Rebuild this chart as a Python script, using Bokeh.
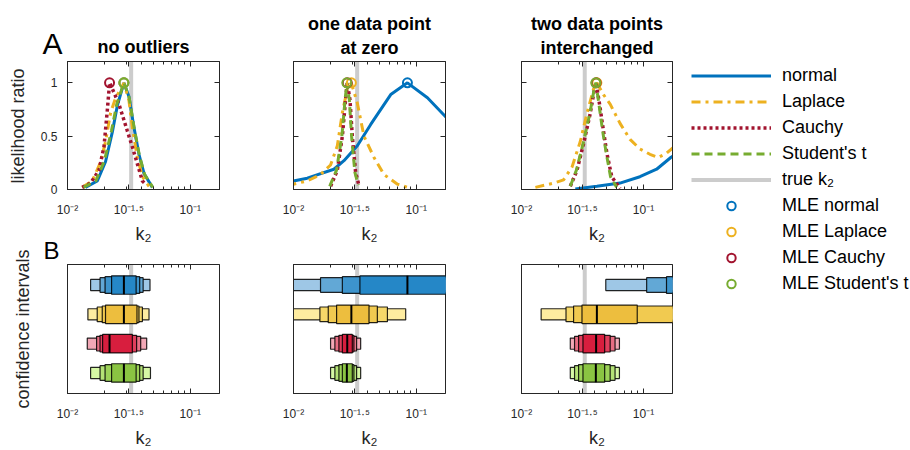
import math
from bokeh.plotting import figure
from bokeh.layouts import row, column
from bokeh.models import (FixedTicker, LogAxis, LinearAxis, Title, Label, Legend,
                          LegendItem, Range1d, Span, ColumnDataSource)
from bokeh.embed import file_html
from bokeh.resources import INLINE

FONT = "Liberation Sans"
INK = "#262626"

# ---------------- data ----------------
x_tick_values = [0.01, 10 ** -1.5, 0.1]
x_tick_labels = ["10⁻²", "10⁻¹·⁵", "10⁻¹"]
x_minor_values = [0.02, 0.03, 0.04, 0.05, 0.06, 0.07, 0.08, 0.09]
y_tick_values = [0, 0.5, 1]
y_tick_labels = ["0", "0.5", "1"]
k_limits = (0.01, 0.173)
lr_limits = (0, 1.2)
true_k2 = 0.033

dist_names = ["normal", "Laplace", "Cauchy", "Student's t"]

# panel 1: no outliers (likelihood ratio curves)
k_a1_normal = [0.0140, 0.0175, 0.0204, 0.0232, 0.0255, 0.0288, 0.0317, 0.0348, 0.0382, 0.0420, 0.0491]
lr_a1_normal = [0.02, 0.08, 0.26, 0.54, 0.79, 1.0, 0.87, 0.58, 0.33, 0.15, 0.02]
k_a1_laplace = [0.01318, 0.01592, 0.01862, 0.02042, 0.02244, 0.02466, 0.02710, 0.02884, 0.03170, 0.03373, 0.03707, 0.04074, 0.04613]
lr_a1_laplace = [0.02, 0.08, 0.26, 0.45, 0.72, 0.86, 0.94, 1.0, 0.83, 0.58, 0.30, 0.12, 0.03]
k_a1_cauchy = [0.01318, 0.01542, 0.01803, 0.01982, 0.02109, 0.02203, 0.02388, 0.02624, 0.02884, 0.03069, 0.03373, 0.03707, 0.04074, 0.04335]
lr_a1_cauchy = [0.02, 0.06, 0.18, 0.40, 0.74, 1.0, 0.91, 0.80, 0.65, 0.55, 0.40, 0.24, 0.08, 0.05]
k_a1_student = [0.0135, 0.0170, 0.0200, 0.0228, 0.0252, 0.0288, 0.0318, 0.0350, 0.0385, 0.0425, 0.0495]
lr_a1_student = [0.02, 0.08, 0.27, 0.55, 0.80, 1.0, 0.86, 0.57, 0.32, 0.14, 0.02]
mle_a1 = [0.0288, 0.0288, 0.0220, 0.0288]

# panel 2: one data point at zero
k_a2_normal = [0.00891, 0.0100, 0.01294, 0.02133, 0.02576, 0.03311, 0.04256, 0.06194, 0.08472, 0.1233, 0.1742, 0.1995]
lr_a2_normal = [0.07, 0.08, 0.106, 0.19, 0.27, 0.41, 0.61, 0.89, 1.0, 0.86, 0.68, 0.62]
k_a2_laplace = [0.00891, 0.0100, 0.01294, 0.01660, 0.02004, 0.02275, 0.02500, 0.02742, 0.02958, 0.03311, 0.03750, 0.04529, 0.05458, 0.07031, 0.08472]
lr_a2_laplace = [0.04, 0.05, 0.08, 0.14, 0.23, 0.41, 0.72, 0.94, 1.0, 0.81, 0.50, 0.30, 0.14, 0.05, 0.02]
k_a2_cauchy = [0.02004, 0.02275, 0.02500, 0.02655, 0.02742, 0.02884, 0.03013, 0.03206, 0.03412]
lr_a2_cauchy = [0.03, 0.18, 0.50, 0.84, 1.0, 0.84, 0.50, 0.16, 0.04]
k_a2_student = [0.01972, 0.02239, 0.02477, 0.02630, 0.02723, 0.02851, 0.02972, 0.03162, 0.03373]
lr_a2_student = [0.03, 0.18, 0.50, 0.84, 1.0, 0.84, 0.50, 0.16, 0.04]
mle_a2 = [0.0847, 0.0296, 0.0274, 0.0272]

# panel 3: two data points interchanged
k_a3_normal = [0.02761, 0.04150, 0.06427, 0.09354, 0.1282, 0.1675, 0.1995]
lr_a3_normal = [0.005, 0.03, 0.06, 0.12, 0.19, 0.30, 0.36]
k_a3_laplace = [0.01300, 0.01837, 0.02213, 0.02594, 0.03034, 0.03436, 0.03890, 0.04150, 0.04699, 0.05333, 0.06427, 0.07762, 0.09354, 0.1130, 0.1321, 0.1545, 0.1778]
lr_a3_laplace = [0.02, 0.06, 0.09, 0.21, 0.45, 0.71, 0.94, 1.0, 0.89, 0.80, 0.62, 0.47, 0.38, 0.33, 0.30, 0.34, 0.40]
k_a3_cauchy = [0.02512, 0.02851, 0.03228, 0.03656, 0.04018, 0.04093, 0.04365, 0.04699, 0.05012, 0.05495, 0.06427]
lr_a3_cauchy = [0.03, 0.18, 0.43, 0.71, 0.98, 1.0, 0.80, 0.55, 0.34, 0.12, 0.01]
k_a3_student = [0.02512, 0.02818, 0.03199, 0.03631, 0.03981, 0.04074, 0.04315, 0.04624, 0.04955, 0.05370, 0.06026]
lr_a3_student = [0.03, 0.18, 0.43, 0.71, 0.97, 1.0, 0.80, 0.55, 0.34, 0.12, 0.02]
mle_a3 = [0.40, 0.0415, 0.0409, 0.0407]

# confidence intervals (outer -> inner level), lower and upper bounds
ci_b1_normal_lo = [0.01542, 0.01841, 0.02023, 0.02286]
ci_b1_normal_hi = [0.04699, 0.04130, 0.03873, 0.03622]
ci_b1_laplace_lo = [0.01466, 0.01746, 0.01919, 0.02040]
ci_b1_laplace_hi = [0.04613, 0.04074, 0.03819, 0.03680]
ci_b1_cauchy_lo = [0.01449, 0.01726, 0.01840, 0.01932]
ci_b1_cauchy_hi = [0.04416, 0.03945, 0.03656, 0.03373]
ci_b1_student_lo = [0.01542, 0.01841, 0.02023, 0.02286]
ci_b1_student_hi = [0.04740, 0.04130, 0.03873, 0.03622]

ci_b2_normal_lo = [0.0080, 0.01660, 0.02500, 0.03475]
ci_b2_normal_hi = [0.30, 0.30, 0.30, 0.30]
ci_b2_laplace_lo = [0.0095, 0.01641, 0.01919, 0.02244]
ci_b2_laplace_hi = [0.0820, 0.05821, 0.04819, 0.04121]
ci_b2_cauchy_lo = [0.02004, 0.02173, 0.02344, 0.02500]
ci_b2_cauchy_hi = [0.03524, 0.03266, 0.03105, 0.03013]
ci_b2_student_lo = [0.02004, 0.02173, 0.02344, 0.02500]
ci_b2_student_hi = [0.03524, 0.03266, 0.03105, 0.03013]

ci_b3_normal_lo = [0.04909, 0.1062, 0.1545, 0.190]
ci_b3_normal_hi = [0.50, 0.50, 0.50, 0.50]
ci_b3_laplace_lo = [0.01449, 0.02317, 0.02673, 0.03133]
ci_b3_laplace_hi = [0.40, 0.40, 0.40, 0.0889]
ci_b3_cauchy_lo = [0.02512, 0.02723, 0.02938, 0.03192]
ci_b3_cauchy_hi = [0.06353, 0.05848, 0.05333, 0.04808]
ci_b3_student_lo = [0.02512, 0.02723, 0.02938, 0.03192]
ci_b3_student_hi = [0.06353, 0.05848, 0.05333, 0.04808]

row_titles = ["likelihood ratio", "confidence intervals"]
panel_letters = ["A", "B"]

# ---------------- styles ----------------
line_colors = ["#0072BD", "#EDB120", "#A2142F", "#77AC30"]
# fill per confidence level (outer -> inner)
box_fills = [
    ["#9EC7E6", "#62A8D6", "#3D94CD", "#2587C7"],
    ["#FEECA0", "#F6D869", "#F1CA50", "#EDBE3E"],
    ["#F2A8B6", "#E86E84", "#E03E5C", "#D81E3E"],
    ["#D6F8A5", "#B4E276", "#9CD258", "#8AC442"],
]
line_dashes = ["solid", "9 5 3 5", "3 3", "8 5"]
line_widths = [3, 3, 3.5, 3]
level_heights = [0.38, 0.50, 0.57, 0.63]
row_pos = [4, 3, 2, 1]
box_y_limits = (0.3, 4.7)

curves = [
    [(k_a1_normal, lr_a1_normal), (k_a1_laplace, lr_a1_laplace), (k_a1_cauchy, lr_a1_cauchy), (k_a1_student, lr_a1_student)],
    [(k_a2_normal, lr_a2_normal), (k_a2_laplace, lr_a2_laplace), (k_a2_cauchy, lr_a2_cauchy), (k_a2_student, lr_a2_student)],
    [(k_a3_normal, lr_a3_normal), (k_a3_laplace, lr_a3_laplace), (k_a3_cauchy, lr_a3_cauchy), (k_a3_student, lr_a3_student)],
]
mles = [mle_a1, mle_a2, mle_a3]
cis = [
    [(ci_b1_normal_lo, ci_b1_normal_hi), (ci_b1_laplace_lo, ci_b1_laplace_hi), (ci_b1_cauchy_lo, ci_b1_cauchy_hi), (ci_b1_student_lo, ci_b1_student_hi)],
    [(ci_b2_normal_lo, ci_b2_normal_hi), (ci_b2_laplace_lo, ci_b2_laplace_hi), (ci_b2_cauchy_lo, ci_b2_cauchy_hi), (ci_b2_student_lo, ci_b2_student_hi)],
    [(ci_b3_normal_lo, ci_b3_normal_hi), (ci_b3_laplace_lo, ci_b3_laplace_hi), (ci_b3_cauchy_lo, ci_b3_cauchy_hi), (ci_b3_student_lo, ci_b3_student_hi)],
]
# (text, font size, standoff) stacked upward from the frame
titles = [[(" ", "10px", 1), ("no outliers", "18px", -18.6)],
          [("at zero", "18px", 8), ("one data point", "18px", -4)],
          [("interchanged", "18px", 8), ("two data points", "18px", -4)]]

# layout geometry of the six panels (a 35px strip holds the row titles)
strip_w = 35
col_widths = [221, 227, 197]
col_borders = [(32, 37), (37, 38), (38, 8)]
top_h, bot_h = 264, 186


def style_x_axis(ax, show_labels, label=None):
    ax.ticker = FixedTicker(ticks=x_tick_values, minor_ticks=x_minor_values)
    ax.major_tick_in = 5
    ax.major_tick_out = 0
    ax.minor_tick_in = 3
    ax.minor_tick_out = 0
    ax.axis_line_color = INK
    ax.major_tick_line_color = INK
    ax.minor_tick_line_color = INK
    if show_labels:
        ax.major_label_overrides = dict(zip(x_tick_values, x_tick_labels))
        ax.major_label_text_font = FONT
        ax.major_label_text_font_size = "12px"
        ax.major_label_text_color = INK
        ax.major_label_standoff = 13
        ax.axis_label = label
        ax.axis_label_text_font = FONT
        ax.axis_label_text_font_size = "18px"
        ax.axis_label_text_font_style = "normal"
        ax.axis_label_text_color = INK
        ax.axis_label_standoff = 4
    else:
        ax.major_label_text_font_size = "0px"
        ax.major_label_standoff = 0


def make_panel(ci, is_top):
    w = col_widths[ci]
    bl, br = col_borders[ci]
    h = top_h if is_top else bot_h
    p = figure(width=w, height=h, x_axis_type="log", x_range=Range1d(*k_limits),
               y_range=Range1d(*(lr_limits if is_top else box_y_limits)),
               output_backend="svg", toolbar_location=None,
               min_border_left=bl, min_border_right=br,
               min_border_top=61 if is_top else 0, min_border_bottom=75 if is_top else 57)
    p.grid.visible = False
    p.outline_line_color = INK
    p.outline_line_width = 1
    p.background_fill_color = "white"
    p.border_fill_color = "white"
    style_x_axis(p.xaxis[0], True, "k₂")
    top_ax = LogAxis()
    style_x_axis(top_ax, False)
    p.add_layout(top_ax, "above")
    yax = p.yaxis[0]
    yax.axis_line_color = INK
    yax.major_tick_line_color = INK
    yax.minor_tick_line_color = None
    yax.major_tick_out = 0
    if is_top:
        yax.ticker = FixedTicker(ticks=y_tick_values)
        yax.major_tick_in = 5
        right_ax = LinearAxis(ticker=FixedTicker(ticks=y_tick_values))
        right_ax.major_tick_in = 5
        right_ax.major_tick_out = 0
        right_ax.major_label_text_font_size = "0px"
        right_ax.major_label_standoff = 0
        right_ax.axis_line_color = INK
        right_ax.major_tick_line_color = INK
        p.add_layout(right_ax, "right")
        if ci == 0:
            yax.major_label_overrides = dict(zip(y_tick_values, y_tick_labels))
            yax.major_label_text_font = FONT
            yax.major_label_text_font_size = "12px"
            yax.major_label_text_color = INK
            yax.major_label_standoff = 10
        else:
            yax.major_label_text_font_size = "0px"
    else:
        yax.ticker = FixedTicker(ticks=[])
        yax.major_tick_in = 0
        yax.major_label_text_font_size = "0px"
    p.add_layout(Span(location=true_k2, dimension="height", line_color="#CCCCCC",
                      line_width=4, level="underlay"))
    return p


top_panels, bot_panels = [], []
for ci in range(3):
    p = make_panel(ci, True)
    for t, fs, so in titles[ci]:
        p.add_layout(Title(text=t, align="center", text_font=FONT, text_font_size=fs,
                           text_font_style="bold", text_color="black", standoff=so), "above")
    for di in range(4):
        kk, lr = curves[ci][di]
        p.line(kk, lr, line_color=line_colors[di], line_width=line_widths[di],
               line_dash=line_dashes[di])
    for di in range(4):
        p.scatter([mles[ci][di]], [1.0], marker="circle", size=9, fill_color=None,
                  line_color=line_colors[di], line_width=2)
    top_panels.append(p)

    b = make_panel(ci, False)
    for di in range(4):
        lo, hi = cis[ci][di]
        y = row_pos[di]
        src = ColumnDataSource(dict(left=lo, right=hi,
                                    bottom=[y - hh / 2 for hh in level_heights],
                                    top=[y + hh / 2 for hh in level_heights],
                                    fill=box_fills[di]))
        b.quad(left="left", right="right", bottom="bottom", top="top", source=src,
               fill_color="fill", fill_alpha=1.0, line_color="black",
               line_width=1.2, line_alpha=0.85)
        b.segment(x0=[mles[ci][di]], x1=[mles[ci][di]], y0=[y - level_heights[-1] / 2],
                  y1=[y + level_heights[-1] / 2], line_color="black", line_width=2)
    bot_panels.append(b)

# panel letters as side-panel titles of the first plot
top_panels[0].add_layout(Title(text=panel_letters[0], align="left", offset=-25,
                               vertical_align="bottom", standoff=-30, text_font=FONT,
                               text_font_size="30px", text_font_style="normal",
                               text_color="black"), "above")
top_panels[0].add_layout(Title(text=panel_letters[1], align="left", offset=-24,
                               vertical_align="top", standoff=-19.5, text_font=FONT,
                               text_font_size="24px", text_font_style="normal",
                               text_color="black"), "below")

# strip with the row titles
strip = figure(width=strip_w, height=450, x_range=Range1d(0, 1), y_range=Range1d(0, 1),
               output_backend="svg", toolbar_location=None, x_axis_location=None,
               y_axis_location=None, min_border=0)
strip.grid.visible = False
strip.outline_line_color = None
for txt, cx, cy in [(row_titles[0], 17, 450 - 125.5), (row_titles[1], 22.5, 450 - 328.5)]:
    strip.add_layout(Label(x=cx, y=cy, x_units="screen", y_units="screen", text=txt,
                           angle=math.pi / 2, text_align="center", text_baseline="middle",
                           text_font=FONT, text_font_size="18px", text_color=INK))

# legend panel
lg = figure(width=230, height=450, x_range=Range1d(10, 11), y_range=Range1d(10, 11),
            output_backend="svg", toolbar_location=None, x_axis_location=None,
            y_axis_location=None, min_border=0)
lg.grid.visible = False
lg.outline_line_color = None
items = []
for di in range(4):
    kk, lr = curves[0][di]
    r = lg.line(kk, lr, line_color=line_colors[di], line_width=line_widths[di], line_dash=line_dashes[di])
    items.append(LegendItem(label=dist_names[di], renderers=[r]))
r = lg.line([true_k2, true_k2], list(lr_limits), line_color="#CCCCCC", line_width=4)
items.append(LegendItem(label="true k₂", renderers=[r]))
for di in range(4):
    r = lg.scatter([mle_a1[di]], [1.0], marker="circle", size=9, fill_color=None,
                   line_color=line_colors[di], line_width=2)
    items.append(LegendItem(label="MLE " + dist_names[di], renderers=[r]))
legend = Legend(items=items, location=(11, 156), glyph_width=80, glyph_height=21,
                label_height=21, spacing=5, padding=0, margin=0, label_standoff=11,
                label_text_font=FONT, label_text_font_size="18px", label_text_color="black",
                border_line_color=None, background_fill_alpha=0)
lg.add_layout(legend)

layout = row(strip, column(row(*top_panels), row(*bot_panels)), lg)
open("out.html", "w").write(file_html(layout, INLINE))
